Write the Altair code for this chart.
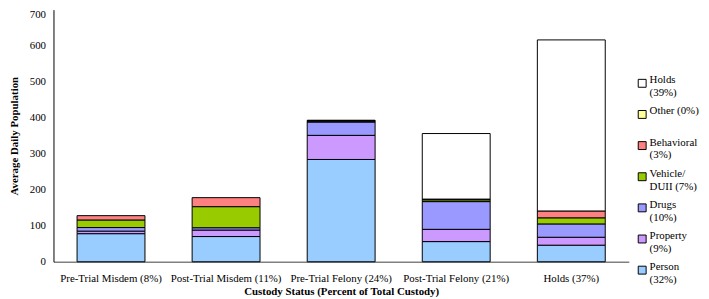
import altair as alt
import pandas as pd

statuses = ["Pre-Trial Misdem (8%)", "Post-Trial Misdem (11%)", "Pre-Trial Felony (24%)",
            "Post-Trial Felony (21%)", "Holds (37%)"]
person = [78, 70, 284, 56, 46]
prop = [7, 18, 67, 34, 22]
drugs = [10, 6.5, 37, 77, 37]
vehicle = [21, 58.5, 2, 5, 17]
behavioral = [12, 25, 2, 2, 19]
other = [0, 0, 1, 0, 0]
holds = [0, 0, 0, 182, 475]

offenses = ["Person", "Property", "Drugs", "Vehicle/DUII", "Behavioral", "Other", "Holds"]
colors = ["#99CCFF", "#CC99FF", "#9999FF", "#99CC00", "#FF8080", "#FFFF99", "#FFFFFF"]
series = [person, prop, drugs, vehicle, behavioral, other, holds]

rows = []
for k, (name, vals) in enumerate(zip(offenses, series)):
    for s, v in zip(statuses, vals):
        if v > 0:
            rows.append({"status": s, "offense": name, "value": v, "order": k})
df = pd.DataFrame(rows)

legend_lines = {
    "Person": ["Person", "(32%)"],
    "Property": ["Property", "(9%)"],
    "Drugs": ["Drugs", "(10%)"],
    "Vehicle/DUII": ["Vehicle/", "DUII (7%)"],
    "Behavioral": ["Behavioral", "(3%)"],
    "Other": ["Other (0%)", " "],
    "Holds": ["Holds", "(39%)"],
}
expr = "''"
for name, lines in legend_lines.items():
    arr = "[" + ",".join("'" + l + "'" for l in lines) + "]"
    expr = f"datum.label == '{name}' ? {arr} : ({expr})"

legend_domain = offenses[::-1]
legend_range = colors[::-1]

FONT = "Liberation Serif"

chart = alt.Chart(df).mark_bar(stroke="black", strokeWidth=1).encode(
    x=alt.X("status:N", sort=statuses,
            scale=alt.Scale(paddingInner=0.41, paddingOuter=0.205),
            axis=alt.Axis(title="Custody Status  (Percent of Total Custody)", labelAngle=0,
                          ticks=False, labelPadding=11, titlePadding=2,
                          domainColor="#808080", domainWidth=1.5,
                          labelFont=FONT, labelFontSize=11, labelColor="black",
                          titleFont=FONT, titleFontSize=11, titleFontWeight="bold",
                          titleColor="black")),
    y=alt.Y("value:Q", stack="zero",
            scale=alt.Scale(domain=[0, 700], nice=False),
            axis=alt.Axis(title="Average Daily Population", values=[0, 100, 200, 300, 400, 500, 600, 700],
                          grid=False, ticks=False, labelPadding=8, titlePadding=10,
                          domainColor="black", domainWidth=1,
                          labelOffset={"condition": {"test": "datum.value == 700", "value": 5}, "value": 0},
                          labelFont=FONT, labelFontSize=11, labelColor="black",
                          titleFont=FONT, titleFontSize=11, titleFontWeight="bold",
                          titleColor="black")),
    color=alt.Color("offense:N",
                    scale=alt.Scale(domain=legend_domain, range=legend_range),
                    legend=alt.Legend(title=None, orient="none", legendX=590, legendY=69,
                                      symbolType="square", symbolSize=64,
                                      symbolStrokeColor="black", symbolStrokeWidth=1,
                                      labelFont=FONT, labelFontSize=11, labelColor="black",
                                      labelLimit=0, labelExpr=expr, labelBaseline="alphabetic",
                                      rowPadding=6.5, padding=0, labelOffset=2)),
    order=alt.Order("order:Q", sort="ascending"),
    tooltip=["status", "offense", "value"],
).properties(
    width=582, height=255,
    autosize=alt.AutoSizeParams(type="none"),
    padding={"left": 46, "top": 0, "right": 73, "bottom": 36},
).configure_view(stroke=None)

chart.save("out.html", embed_options={"renderer": "svg", "actions": False})
